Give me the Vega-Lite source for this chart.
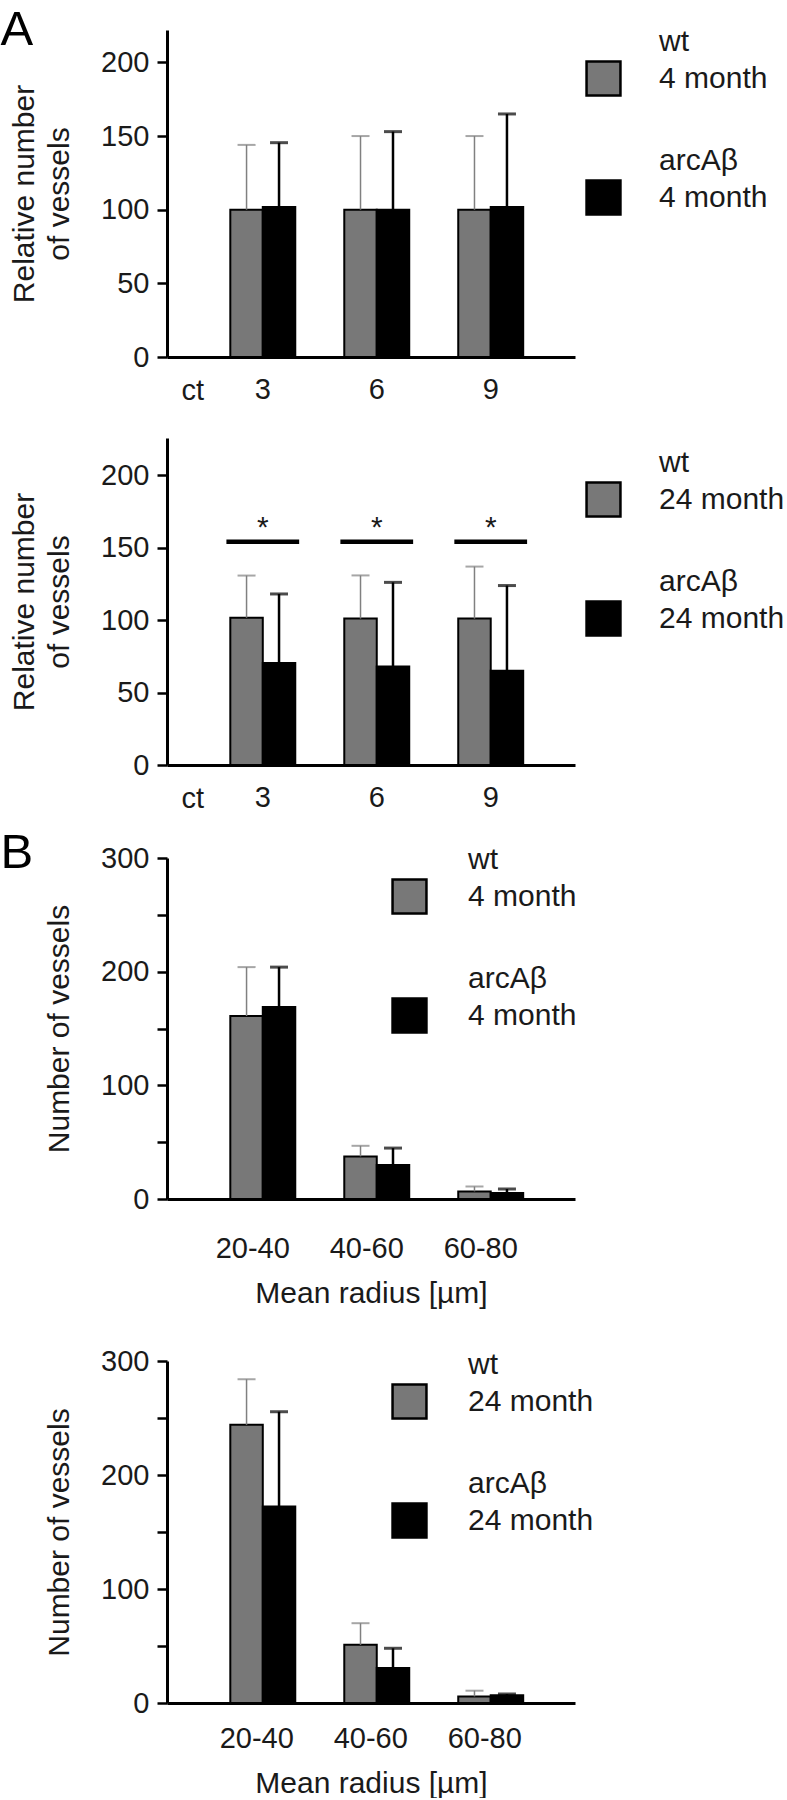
{
  "$schema": "https://vega.github.io/schema/vega-lite/v6.json",
  "background": "white",
  "padding": {"left": 0, "top": 6, "right": 0, "bottom": 0},
  "config": {
    "view": {"stroke": null},
    "font": "Liberation Sans",
    "axis": {"domainColor": "#000", "domainWidth": 3, "tickColor": "#000", "tickWidth": 2.5, "tickSize": 10, "labelFont": "Liberation Sans", "labelFontSize": 29, "labelColor": "#1a1a1a", "labelPadding": 8, "titleFont": "Liberation Sans", "titleFontSize": 30, "titleFontWeight": "normal", "titleColor": "#1a1a1a", "grid": false, "zindex": 1},
    "legend": {"labelFont": "Liberation Sans", "labelFontSize": 30, "labelColor": "#1a1a1a", "symbolType": "square", "symbolSize": 1150, "symbolStrokeColor": "#000", "symbolStrokeWidth": 2.5, "symbolOpacity": 1, "rowPadding": 74, "labelOffset": 37},
    "style": {"guide-label": {"lineHeight": -37}},
    "title": {"font": "Liberation Sans", "fontSize": 49, "fontWeight": "normal", "color": "#000", "anchor": "start", "frame": "bounds", "baseline": "alphabetic", "dx": -9}
  },
  "datasets": {
    "a4": [
      {"ct": "3", "group": "wt", "mean": 100, "upper": 144},
      {"ct": "3", "group": "arc", "mean": 101.8, "upper": 145.5},
      {"ct": "6", "group": "wt", "mean": 100, "upper": 150},
      {"ct": "6", "group": "arc", "mean": 100, "upper": 153},
      {"ct": "9", "group": "wt", "mean": 100, "upper": 150},
      {"ct": "9", "group": "arc", "mean": 101.8, "upper": 165}
    ],
    "a24": [
      {"ct": "3", "group": "wt", "mean": 101.6, "upper": 130.7},
      {"ct": "3", "group": "arc", "mean": 70.4, "upper": 118},
      {"ct": "6", "group": "wt", "mean": 101, "upper": 130.8},
      {"ct": "6", "group": "arc", "mean": 67.9, "upper": 126},
      {"ct": "9", "group": "wt", "mean": 101, "upper": 136.9},
      {"ct": "9", "group": "arc", "mean": 65, "upper": 123.8}
    ],
    "sig": [
      {"ct": "3", "lo": 152.5, "hi": 155.5, "star": 157},
      {"ct": "6", "lo": 152.5, "hi": 155.5, "star": 157},
      {"ct": "9", "lo": 152.5, "hi": 155.5, "star": 157}
    ],
    "b4": [
      {"r": "20-40", "group": "wt", "mean": 161, "upper": 204},
      {"r": "20-40", "group": "arc", "mean": 169, "upper": 204},
      {"r": "40-60", "group": "wt", "mean": 37.5, "upper": 46.8},
      {"r": "40-60", "group": "arc", "mean": 30, "upper": 44.8},
      {"r": "60-80", "group": "wt", "mean": 6.7, "upper": 11},
      {"r": "60-80", "group": "arc", "mean": 5.3, "upper": 8.8}
    ],
    "b24": [
      {"r": "20-40", "group": "wt", "mean": 244, "upper": 284},
      {"r": "20-40", "group": "arc", "mean": 172.4, "upper": 255.5},
      {"r": "40-60", "group": "wt", "mean": 51, "upper": 70},
      {"r": "40-60", "group": "arc", "mean": 30.6, "upper": 48},
      {"r": "60-80", "group": "wt", "mean": 5.8, "upper": 10.8},
      {"r": "60-80", "group": "arc", "mean": 6.7, "upper": 7.9}
    ]
  },
  "spacing": 16,
  "resolve": {"scale": {"color": "independent"}, "legend": {"color": "independent"}},
  "vconcat": [
    {
      "spacing": 33,
      "resolve": {"scale": {"color": "independent"}, "legend": {"color": "independent"}},
      "vconcat": [
        {
          "title": {"text": "A", "offset": -25},
          "width": 408, "height": 327,
          "data": {"name": "a4"},
          "encoding": {
            "x": {"field": "ct", "type": "nominal", "sort": ["3", "6", "9"], "scale": {"paddingInner": 0.43, "paddingOuter": 0.505, "align": 0.55},
              "axis": {"title": "ct", "labelAngle": 0, "ticks": false, "tickSize": 0, "labelPadding": 18, "titleX": 14, "titleY": 42, "titleAlign": "left", "titleBaseline": "alphabetic", "titleFontSize": 29, "titleAnchor": "start"}},
            "xOffset": {"field": "group", "type": "nominal", "sort": ["wt", "arc"], "scale": {"domain": ["wt", "arc"], "paddingInner": 0, "paddingOuter": 0}}
          },
          "layer": [
            {"mark": {"type": "bar", "stroke": "#000", "strokeWidth": 2},
              "encoding": {
                "y": {"field": "mean", "type": "quantitative", "title": ["Relative number", "of vessels"], "scale": {"domain": [0, 222], "nice": false},
                  "axis": {"values": [0, 50, 100, 150, 200], "titlePadding": 26, "titleLineHeight": 35}},
                "color": {"field": "group", "type": "nominal", "scale": {"domain": ["wt", "arc"], "range": ["#787878", "#000000"]},
                  "legend": {"title": null, "orient": "right", "offset": -20, "padding": 30, "labelExpr": "datum.value == 'wt' ? ['4 month', 'wt'] : ['4 month', 'arcAβ']"}}
              }},
            {"transform": [{"filter": "datum.group == 'wt'"}], "mark": {"type": "rule", "color": "#808080", "strokeWidth": 1.5},
              "encoding": {"y": {"field": "mean", "type": "quantitative", "title": ["Relative number", "of vessels"], "scale": {"domain": [0, 222], "nice": false}}, "y2": {"field": "upper"}}},
            {"transform": [{"filter": "datum.group == 'wt'"}], "mark": {"type": "tick", "color": "#808080", "size": 18, "thickness": 2, "orient": "horizontal"},
              "encoding": {"y": {"field": "upper", "type": "quantitative", "title": ["Relative number", "of vessels"], "scale": {"domain": [0, 222], "nice": false}}}},
            {"transform": [{"filter": "datum.group == 'arc'"}], "mark": {"type": "rule", "color": "#000", "strokeWidth": 2.5},
              "encoding": {"y": {"field": "mean", "type": "quantitative", "title": ["Relative number", "of vessels"], "scale": {"domain": [0, 222], "nice": false}}, "y2": {"field": "upper"}}},
            {"transform": [{"filter": "datum.group == 'arc'"}], "mark": {"type": "tick", "color": "#000", "size": 18, "thickness": 3, "orient": "horizontal"},
              "encoding": {"y": {"field": "upper", "type": "quantitative", "title": ["Relative number", "of vessels"], "scale": {"domain": [0, 222], "nice": false}}}}
          ]
        },
        {
          "width": 408, "height": 327,
          "data": {"name": "a24"},
          "layer": [
            {"mark": {"type": "bar", "stroke": "#000", "strokeWidth": 2},
              "encoding": {
                "x": {"field": "ct", "type": "nominal", "sort": ["3", "6", "9"], "scale": {"paddingInner": 0.43, "paddingOuter": 0.505, "align": 0.55},
                  "axis": {"title": "ct", "labelAngle": 0, "ticks": false, "tickSize": 0, "labelPadding": 18, "titleX": 14, "titleY": 42, "titleAlign": "left", "titleBaseline": "alphabetic", "titleFontSize": 29, "titleAnchor": "start"}},
                "xOffset": {"field": "group", "type": "nominal", "sort": ["wt", "arc"], "scale": {"domain": ["wt", "arc"], "paddingInner": 0, "paddingOuter": 0}},
                "y": {"field": "mean", "type": "quantitative", "title": ["Relative number", "of vessels"], "scale": {"domain": [0, 225.6], "nice": false},
                  "axis": {"values": [0, 50, 100, 150, 200], "titlePadding": 26, "titleLineHeight": 35}},
                "color": {"field": "group", "type": "nominal", "scale": {"domain": ["wt", "arc"], "range": ["#787878", "#000000"]},
                  "legend": {"title": null, "orient": "right", "offset": -33, "padding": 43, "labelExpr": "datum.value == 'wt' ? ['24 month', 'wt'] : ['24 month', 'arcAβ']"}}
              }},
            {"transform": [{"filter": "datum.group == 'wt'"}], "mark": {"type": "rule", "color": "#808080", "strokeWidth": 1.5},
              "encoding": {"x": {"field": "ct", "type": "nominal"}, "xOffset": {"field": "group", "type": "nominal"},
                "y": {"field": "mean", "type": "quantitative", "title": ["Relative number", "of vessels"], "scale": {"domain": [0, 225.6], "nice": false}}, "y2": {"field": "upper"}}},
            {"transform": [{"filter": "datum.group == 'wt'"}], "mark": {"type": "tick", "color": "#808080", "size": 18, "thickness": 2, "orient": "horizontal"},
              "encoding": {"x": {"field": "ct", "type": "nominal"}, "xOffset": {"field": "group", "type": "nominal"},
                "y": {"field": "upper", "type": "quantitative", "title": ["Relative number", "of vessels"], "scale": {"domain": [0, 225.6], "nice": false}}}},
            {"transform": [{"filter": "datum.group == 'arc'"}], "mark": {"type": "rule", "color": "#000", "strokeWidth": 2.5},
              "encoding": {"x": {"field": "ct", "type": "nominal"}, "xOffset": {"field": "group", "type": "nominal"},
                "y": {"field": "mean", "type": "quantitative", "title": ["Relative number", "of vessels"], "scale": {"domain": [0, 225.6], "nice": false}}, "y2": {"field": "upper"}}},
            {"transform": [{"filter": "datum.group == 'arc'"}], "mark": {"type": "tick", "color": "#000", "size": 18, "thickness": 3, "orient": "horizontal"},
              "encoding": {"x": {"field": "ct", "type": "nominal"}, "xOffset": {"field": "group", "type": "nominal"},
                "y": {"field": "upper", "type": "quantitative", "title": ["Relative number", "of vessels"], "scale": {"domain": [0, 225.6], "nice": false}}}},
            {"data": {"name": "sig"}, "mark": {"type": "bar", "color": "#000", "width": {"band": 1.12}},
              "encoding": {"x": {"field": "ct", "type": "nominal"},
                "y": {"field": "lo", "type": "quantitative", "title": ["Relative number", "of vessels"], "scale": {"domain": [0, 225.6], "nice": false}}, "y2": {"field": "hi"}}},
            {"data": {"name": "sig"}, "mark": {"type": "text", "text": "*", "fontSize": 30, "baseline": "alphabetic", "font": "Liberation Sans", "color": "#1a1a1a"},
              "encoding": {"x": {"field": "ct", "type": "nominal"},
                "y": {"field": "star", "type": "quantitative", "title": ["Relative number", "of vessels"], "scale": {"domain": [0, 225.6], "nice": false}}}}
          ]
        }
      ]
    },
    {
      "spacing": 39,
      "resolve": {"scale": {"color": "independent"}, "legend": {"color": "independent"}},
      "vconcat": [
        {
          "title": {"text": "B", "offset": -34},
          "width": 408, "height": 341,
          "data": {"name": "b4"},
          "encoding": {
            "x": {"field": "r", "type": "nominal", "sort": ["20-40", "40-60", "60-80"], "scale": {"paddingInner": 0.43, "paddingOuter": 0.505, "align": 0.55},
              "axis": {"title": "Mean radius [µm]", "labelAngle": 0, "ticks": false, "tickSize": 0, "labelPadding": 35, "labelOffset": -10, "titlePadding": 15}},
            "xOffset": {"field": "group", "type": "nominal", "sort": ["wt", "arc"], "scale": {"domain": ["wt", "arc"], "paddingInner": 0, "paddingOuter": 0}}
          },
          "layer": [
            {"mark": {"type": "bar", "stroke": "#000", "strokeWidth": 2},
              "encoding": {
                "y": {"field": "mean", "type": "quantitative", "title": ["", "Number of vessels"], "scale": {"domain": [0, 300], "nice": false},
                  "axis": {"values": [0, 50, 100, 150, 200, 250, 300], "labelExpr": "datum.value % 100 == 0 ? datum.label : ''", "titlePadding": 26, "titleLineHeight": 35}},
                "color": {"field": "group", "type": "nominal", "scale": {"domain": ["wt", "arc"], "range": ["#787878", "#000000"]},
                  "legend": {"title": null, "orient": "right", "offset": -204, "padding": 20, "labelOffset": 40, "labelExpr": "datum.value == 'wt' ? ['4 month', 'wt'] : ['4 month', 'arcAβ']"}}
              }},
            {"transform": [{"filter": "datum.group == 'wt'"}], "mark": {"type": "rule", "color": "#808080", "strokeWidth": 1.5},
              "encoding": {"y": {"field": "mean", "type": "quantitative", "title": ["", "Number of vessels"], "scale": {"domain": [0, 300], "nice": false}}, "y2": {"field": "upper"}}},
            {"transform": [{"filter": "datum.group == 'wt'"}], "mark": {"type": "tick", "color": "#808080", "size": 18, "thickness": 2, "orient": "horizontal"},
              "encoding": {"y": {"field": "upper", "type": "quantitative", "title": ["", "Number of vessels"], "scale": {"domain": [0, 300], "nice": false}}}},
            {"transform": [{"filter": "datum.group == 'arc'"}], "mark": {"type": "rule", "color": "#000", "strokeWidth": 2.5},
              "encoding": {"y": {"field": "mean", "type": "quantitative", "title": ["", "Number of vessels"], "scale": {"domain": [0, 300], "nice": false}}, "y2": {"field": "upper"}}},
            {"transform": [{"filter": "datum.group == 'arc'"}], "mark": {"type": "tick", "color": "#000", "size": 18, "thickness": 3, "orient": "horizontal"},
              "encoding": {"y": {"field": "upper", "type": "quantitative", "title": ["", "Number of vessels"], "scale": {"domain": [0, 300], "nice": false}}}}
          ]
        },
        {
          "width": 408, "height": 342,
          "data": {"name": "b24"},
          "encoding": {
            "x": {"field": "r", "type": "nominal", "sort": ["20-40", "40-60", "60-80"], "scale": {"paddingInner": 0.43, "paddingOuter": 0.505, "align": 0.55},
              "axis": {"title": "Mean radius [µm]", "labelAngle": 0, "ticks": false, "tickSize": 0, "labelPadding": 21, "labelOffset": -6, "titlePadding": 15}},
            "xOffset": {"field": "group", "type": "nominal", "sort": ["wt", "arc"], "scale": {"domain": ["wt", "arc"], "paddingInner": 0, "paddingOuter": 0}}
          },
          "layer": [
            {"mark": {"type": "bar", "stroke": "#000", "strokeWidth": 2},
              "encoding": {
                "y": {"field": "mean", "type": "quantitative", "title": ["", "Number of vessels"], "scale": {"domain": [0, 300], "nice": false},
                  "axis": {"values": [0, 50, 100, 150, 200, 250, 300], "labelExpr": "datum.value % 100 == 0 ? datum.label : ''", "titlePadding": 26, "titleLineHeight": 35}},
                "color": {"field": "group", "type": "nominal", "scale": {"domain": ["wt", "arc"], "range": ["#787878", "#000000"]},
                  "legend": {"title": null, "orient": "right", "offset": -206, "padding": 22, "labelOffset": 40, "labelExpr": "datum.value == 'wt' ? ['24 month', 'wt'] : ['24 month', 'arcAβ']"}}
              }},
            {"transform": [{"filter": "datum.group == 'wt'"}], "mark": {"type": "rule", "color": "#808080", "strokeWidth": 1.5},
              "encoding": {"y": {"field": "mean", "type": "quantitative", "title": ["", "Number of vessels"], "scale": {"domain": [0, 300], "nice": false}}, "y2": {"field": "upper"}}},
            {"transform": [{"filter": "datum.group == 'wt'"}], "mark": {"type": "tick", "color": "#808080", "size": 18, "thickness": 2, "orient": "horizontal"},
              "encoding": {"y": {"field": "upper", "type": "quantitative", "title": ["", "Number of vessels"], "scale": {"domain": [0, 300], "nice": false}}}},
            {"transform": [{"filter": "datum.group == 'arc'"}], "mark": {"type": "rule", "color": "#000", "strokeWidth": 2.5},
              "encoding": {"y": {"field": "mean", "type": "quantitative", "title": ["", "Number of vessels"], "scale": {"domain": [0, 300], "nice": false}}, "y2": {"field": "upper"}}},
            {"transform": [{"filter": "datum.group == 'arc'"}], "mark": {"type": "tick", "color": "#000", "size": 18, "thickness": 3, "orient": "horizontal"},
              "encoding": {"y": {"field": "upper", "type": "quantitative", "title": ["", "Number of vessels"], "scale": {"domain": [0, 300], "nice": false}}}}
          ]
        }
      ]
    }
  ]
}
